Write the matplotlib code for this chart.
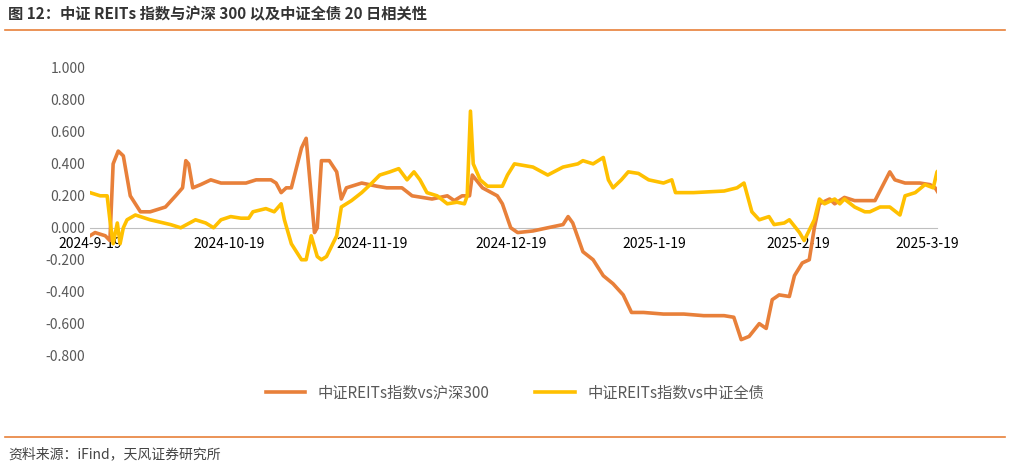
import matplotlib
matplotlib.use("Agg")
import matplotlib.pyplot as plt
import numpy as np

plt.rcParams['font.family'] = ['Noto Sans CJK SC', 'DejaVu Sans']

start = np.datetime64('2024-09-19')
# days offset from 2024-09-19
d1 = [0,1.1,3.3,4.3,5,6.1,7.2,8.7,10.9,13,16.3,18.5,20,20.7,21.3,22.2,23.9,26.1,28.3,33.7,35.9,39.1,40.2,41.3,42.4,43.5,45.7,46.7,47.8,48.5,49.1,50,51.7,53.3,54.3,55.4,58.7,62,64.1,67.4,69.6,73.9,77.2,78.7,80.4,82,82.6,84.8,88,89.1,90.9,92.4,95.7,98.9,102.2,103.3,104.3,106.5,108.7,110.9,113,115.2,117,119.6,123.9,128.3,132.6,137,139.1,140.7,142.4,144.6,146.1,147.4,148.9,151.1,152.2,153.9,155.4,156.5,157.6,159.8,160.9,163,165.2,167.4,169.6,172.8,173.9,176.1,179.3,181.5,182.6,183.9]
v1 = [-0.05,-0.03,-0.05,-0.08,0.40,0.48,0.45,0.20,0.10,0.10,0.13,0.20,0.25,0.42,0.40,0.25,0.27,0.30,0.28,0.28,0.30,0.30,0.28,0.22,0.25,0.25,0.50,0.56,0.20,-0.03,0.00,0.42,0.42,0.35,0.18,0.25,0.28,0.26,0.25,0.25,0.20,0.18,0.20,0.17,0.20,0.20,0.33,0.25,0.20,0.15,0.00,-0.03,-0.02,0.00,0.02,0.07,0.03,-0.15,-0.20,-0.30,-0.35,-0.42,-0.53,-0.53,-0.54,-0.54,-0.55,-0.55,-0.56,-0.70,-0.68,-0.60,-0.63,-0.45,-0.42,-0.43,-0.30,-0.22,-0.20,0.00,0.15,0.18,0.15,0.19,0.17,0.17,0.17,0.35,0.30,0.28,0.28,0.27,0.25,0.19]
d2 = [0,2.2,3.7,4.3,5,5.9,6.5,7.2,8,9.8,13,17.4,19.6,22.8,25,26.7,28.3,30.4,32.6,34.3,35.2,38,39.8,41.3,42,43.5,45.7,46.7,47.8,49.1,50,51.1,53.3,54.3,56.5,58.7,60.9,62.6,64.8,66.7,68.5,70,71.3,72.8,75,77.2,79.3,80.9,81.5,82.2,82.8,84.3,85.9,89.1,90.2,91.7,95.7,98.9,102.2,105.4,106.5,108.7,110.9,112,113,114.8,116.3,118.5,120.7,123.9,125.7,126.5,130.4,137,139.8,141.3,143,144.6,146.7,147.8,150,151.1,153.3,154.3,156.5,157.6,158.7,160.9,162,163,165.2,167.4,168.5,170.7,172.8,175,176.1,178.3,180.4,182.2,183,184.1]
v2 = [0.22,0.20,0.20,0.05,-0.10,0.03,-0.10,0.00,0.05,0.08,0.05,0.02,0.00,0.05,0.03,0.00,0.05,0.07,0.06,0.06,0.10,0.12,0.10,0.15,0.05,-0.10,-0.20,-0.20,-0.05,-0.18,-0.20,-0.18,-0.05,0.13,0.17,0.22,0.28,0.33,0.35,0.37,0.30,0.35,0.30,0.22,0.20,0.15,0.16,0.15,0.20,0.73,0.40,0.30,0.26,0.26,0.33,0.40,0.38,0.33,0.38,0.40,0.42,0.40,0.44,0.30,0.25,0.30,0.35,0.34,0.30,0.28,0.30,0.22,0.22,0.23,0.25,0.28,0.10,0.05,0.07,0.02,0.03,0.05,-0.03,-0.08,0.05,0.18,0.15,0.18,0.15,0.18,0.13,0.10,0.10,0.13,0.13,0.08,0.20,0.22,0.27,0.25,0.35,0.38]
tick_labels = ['2024-9-19','2024-10-19','2024-11-19','2024-12-19','2025-1-19','2025-2-19','2025-3-19']
tick_dates = ['2024-09-19','2024-10-19','2024-11-19','2024-12-19','2025-01-19','2025-02-19','2025-03-19']
yticks = [-0.8,-0.6,-0.4,-0.2,0,0.2,0.4,0.6,0.8,1.0]
names = ['中证REITs指数vs沪深300','中证REITs指数vs中证全债']

fig = plt.figure(figsize=(10.10,4.66), dpi=100)
W, H = 1010, 466
ax = fig.add_axes([90/W, 1-362/H, (937-90)/W, (362-60)/H])
x1 = start + (np.array(d1)*24*60).astype('timedelta64[m]')
x2 = start + (np.array(d2)*24*60).astype('timedelta64[m]')
ax.plot(x1, v1, color='#E8803A', lw=2.6, label=names[0], solid_joinstyle='round')
ax.plot(x2, v2, color='#FFC000', lw=2.6, label=names[1], solid_joinstyle='round')
ax.set_ylim(-0.84, 1.05)
ax.set_xlim(start, np.datetime64('2025-03-21'))
ax.set_yticks(yticks)
ax.set_yticklabels([f'{y:.3f}' for y in yticks], fontsize=10, color='#595959')
ax.set_xticks([np.datetime64(t) for t in tick_dates])
ax.set_xticklabels(tick_labels, fontsize=10, color='#595959')
for s in ['top','right','left']:
    ax.spines[s].set_visible(False)
ax.spines['bottom'].set_position(('data', 0))
ax.spines['bottom'].set_color('#BFBFBF')
ax.spines['bottom'].set_linewidth(0.8)
ax.spines['bottom'].set_zorder(0)
ax.tick_params(length=0)
ax.tick_params(axis='x', pad=7)

leg = fig.legend(loc='center', bbox_to_anchor=(515/W, 1-393/H), ncol=2, frameon=False,
                 fontsize=11, handlelength=2.6, columnspacing=3)
for t in leg.get_texts():
    t.set_color('#595959')

fig.text(8/W, 1-14/H, '图 12：中证 REITs 指数与沪深 300 以及中证全债 20 日相关性', fontsize=11, fontweight='bold', color='#333333', va='center')
fig.add_artist(plt.Line2D([5/W, 1005/W], [1-30/H, 1-30/H], color='#E8803A', lw=1.2))
fig.add_artist(plt.Line2D([5/W, 1005/W], [1-437/H, 1-437/H], color='#E8803A', lw=1.2))
fig.text(8/W, 1-454/H, '资料来源：iFind，天风证券研究所', fontsize=10, color='#444444', va='center')
fig.savefig('out.png', dpi=100)
